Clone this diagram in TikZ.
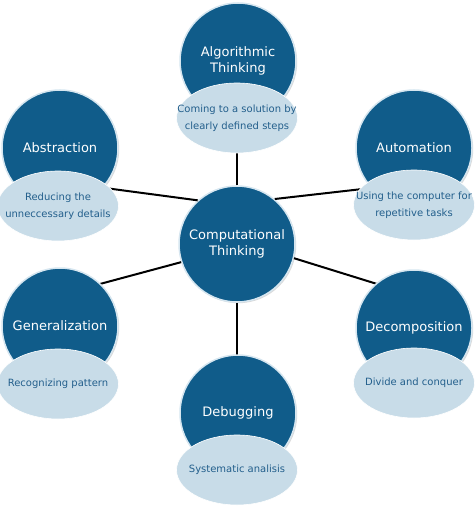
\documentclass[tikz,border=0pt]{standalone}
\usepackage{fontspec}
\setmainfont{DejaVu Sans}
\usetikzlibrary{shapes.geometric,shadows}
\definecolor{ctdark}{RGB}{16,92,138}
\definecolor{ctlight}{RGB}{200,220,232}
\definecolor{ctrim}{RGB}{214,230,240}
\definecolor{cttext}{RGB}{35,95,140}
\begin{document}
\begin{tikzpicture}[x=1pt, y=-1pt,
    topicnode/.style={circle, fill=ctdark, draw=ctrim, line width=1.5pt, minimum size=116pt, inner sep=0pt,
      text=white, align=center, font=\fontsize{13}{16}\selectfont,
      drop shadow={shadow xshift=1.2pt, shadow yshift=-1.2pt, opacity=.3}},
    notenode/.style={ellipse, fill=ctlight, draw=white, line width=.6pt, minimum width=121pt, minimum height=70pt,
      inner sep=0pt},
    notetext/.style={text=cttext, align=center, font=\fontsize{10}{17}\selectfont},
    link/.style={line width=2pt, black}]
        \useasboundingbox (0, 0) rectangle (474, 508);
        % centre
        \node[topicnode] (ct) at (237, 244) {Computational\\Thinking};
        % ends of the lines
        \coordinate (alg-end) at (237, 140);
        \coordinate (abs-end) at (90, 186);
        \coordinate (aut-end) at (380, 187);
        \coordinate (gen-end) at (85, 288);
        \coordinate (dec-end) at (390, 288);
        \coordinate (dbg-end) at (237, 380);
        % lines
        \draw[link] (ct.90) -- (alg-end);
        \draw[link] (ct.132) -- (abs-end);
        \draw[link] (ct.50) -- (aut-end);
        \draw[link] (ct.198) -- (gen-end);
        \draw[link] (ct.346) -- (dec-end);
        \draw[link] (ct.270) -- (dbg-end);
        % topics
        \node[topicnode] (alg) at (238, 61) {Algorithmic\\Thinking};
        \node[notenode, label={[notetext]center:Coming to a solution by\\clearly defined steps}] (alg-note) at (237, 118) {};
        \node[topicnode] (abs) at (60, 148) {Abstraction};
        \node[notenode, label={[notetext]center:Reducing the\\unneccessary details}] (abs-note) at (58, 206) {};
        \node[topicnode] (aut) at (414, 148) {Automation};
        \node[notenode, label={[notetext]center:Using the computer for\\repetitive tasks}] (aut-note) at (414, 205) {};
        \node[topicnode] (gen) at (60, 326) {Generalization};
        \node[notenode, label={[notetext]center:Recognizing pattern}] (gen-note) at (58, 384) {};
        \node[topicnode] (dec) at (414, 328) {Decomposition};
        \node[notenode, label={[notetext]center:Divide and conquer}] (dec-note) at (414, 383) {};
        \node[topicnode] (dbg) at (238, 413) {Debugging};
        \node[notenode, label={[notetext]center:Systematic analisis}] (dbg-note) at (237, 470) {};
\end{tikzpicture}
\end{document}
